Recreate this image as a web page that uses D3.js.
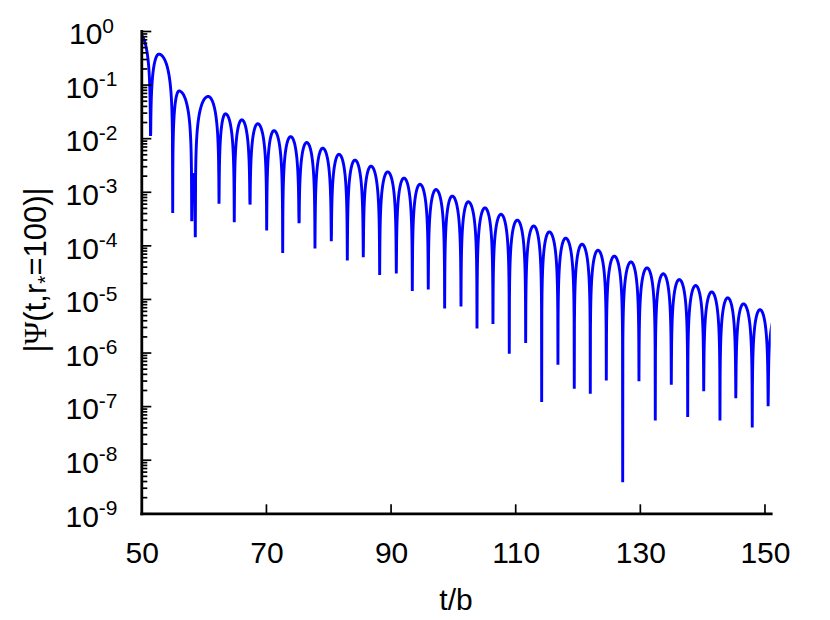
<!DOCTYPE html>
<html><head><meta charset="utf-8">
<script src="https://cdn.jsdelivr.net/npm/d3@7"></script>
<style>body{margin:0;background:#fff} svg{display:block}</style>
</head><body><svg id="c" width="830" height="620"></svg>
<script>
// ---- Data ----
// Local maxima of |Psi| (first and last lie just outside the plotted range)
const peakTimes = [49.6, 52.81, 56.05, 58.36, 60.73, 63.51, 66.13, 68.68, 71.29, 73.97,
  76.54, 79.11, 81.72, 84.29, 86.86, 89.54, 92.15, 94.72, 97.29, 99.90,
  102.47, 105.15, 107.72, 110.33, 112.97, 115.47, 118.10, 120.72, 123.28, 125.90,
  128.58, 131.15, 133.76, 136.33, 138.96, 141.53, 144.10, 146.63, 149.28, 151.9];
const peakValues = [0.9, 0.37, 7.6e-2, 2.1e-3, 6.0e-2, 2.85e-2, 2.2e-2, 1.86e-2, 1.38e-2, 1.07e-2,
  8.3e-3, 6.5e-3, 5.0e-3, 3.9e-3, 3.0e-3, 2.35e-3, 1.8e-3, 1.38e-3, 1.1e-3, 8.3e-4,
  6.5e-4, 5.0e-4, 3.8e-4, 2.95e-4, 2.3e-4, 1.78e-4, 1.36e-4, 1.05e-4, 8.1e-5, 6.3e-5,
  4.9e-5, 3.8e-5, 2.95e-5, 2.3e-5, 1.78e-5, 1.35e-5, 1.05e-5, 8.1e-6, 6.3e-6, 5.0e-6];
// Zero crossings (sharp dips) and the depth each sampled dip reaches
const zeroTimes = [51.48, 55.04, 58.09, 58.67, 62.47, 64.92, 67.44, 70.12, 72.69, 75.31,
  77.87, 80.49, 83.06, 85.62, 88.25, 90.92, 93.49, 96.05, 98.68, 101.30,
  103.87, 106.43, 109.05, 111.68, 114.25, 116.86, 119.48, 122.05, 124.62, 127.25,
  129.86, 132.48, 135.05, 137.68, 140.25, 142.86, 145.40, 148.04, 150.59];
const zeroDepths = [1.1e-2, 4.0e-4, 3.0e-4, 1.5e-4, 6.0e-4, 2.7e-4, 5.8e-4, 1.9e-4, 7.2e-5, 2.6e-4,
  8.7e-5, 1.2e-4, 5.2e-5, 6.0e-5, 2.8e-5, 3.0e-5, 1.4e-5, 1.5e-5, 6.6e-6, 7.2e-6,
  2.8e-6, 3.4e-6, 9.5e-7, 1.5e-6, 1.2e-7, 5.9e-7, 2.1e-7, 1.7e-7, 3.0e-7, 3.8e-9,
  2.9e-7, 5.4e-8, 2.5e-7, 6.3e-8, 1.9e-7, 5.4e-8, 1.4e-7, 4.0e-8, 1.0e-7];

const xTickValues = [50, 70, 90, 110, 130, 150];
const yTickExponents = [0, -1, -2, -3, -4, -5, -6, -7, -8, -9];
const xTitle = "t/b";

// ---- Layout ----
const svg = d3.select("#c");
const X0 = 141.3, X1 = 770.7, Y0 = 513.3, Y1 = 31;
const x = d3.scaleLinear().domain([50, 151]).range([X0, X1]);
const y = d3.scaleLog().domain([1e-9, 1]).range([Y0, Y1]);
const FONT = "'Liberation Sans', Arial, Helvetica, sans-serif";

// ---- Curve: each lobe drawn as an arch between a zero and its neighbouring peaks ----
const N = 48;
const pts = [];
for (let i = 0; i < zeroTimes.length; i++) {
  const pl = [peakTimes[i], peakValues[i]], pr = [peakTimes[i + 1], peakValues[i + 1]];
  const zt = zeroTimes[i], zd = zeroDepths[i];
  for (let k = 0; k < N; k++) {
    const f = 1 - k / N;
    pts.push([zt - (zt - pl[0]) * f, Math.max(zd, pl[1] * Math.sin(Math.PI / 2 * f))]);
  }
  pts.push([zt, zd]);
  for (let k = 1; k <= N; k++) {
    const f = k / N;
    pts.push([zt + (pr[0] - zt) * f, Math.max(zd, pr[1] * Math.sin(Math.PI / 2 * f))]);
  }
}

svg.append("clipPath").attr("id", "clip").append("rect")
  .attr("x", X0).attr("y", 0).attr("width", X1 - X0).attr("height", 620);

svg.append("path")
  .datum(pts)
  .attr("clip-path", "url(#clip)")
  .attr("fill", "none")
  .attr("stroke", "#0000ff")
  .attr("stroke-width", 2.9)
  .attr("d", d3.line().x(d => x(d[0])).y(d => y(d[1])));

// ---- Axes ----
const majors = yTickExponents.map(e => Math.pow(10, e));
const minors = [];
yTickExponents.slice(1).forEach(e => { for (let m = 2; m <= 9; m++) minors.push(m * Math.pow(10, e)); });

const gyMinor = svg.append("g").attr("transform", `translate(${X0},0)`)
  .call(d3.axisLeft(y).tickValues(minors).tickSize(-6).tickSizeOuter(0).tickFormat(""));
const gyMajor = svg.append("g").attr("transform", `translate(${X0},0)`)
  .call(d3.axisLeft(y).tickValues(majors).tickSize(-10).tickSizeOuter(0).tickFormat(""));
const gx = svg.append("g").attr("transform", `translate(0,${Y0})`)
  .call(d3.axisBottom(x).tickValues(xTickValues.slice(1)).tickSize(-9).tickSizeOuter(0).tickFormat(""));

[gyMinor, gyMajor, gx].forEach(g => {
  g.selectAll(".tick line").attr("stroke", "#000").attr("stroke-width", 1.7);
  g.select(".domain").attr("stroke", "#000").attr("stroke-width", 2.8).attr("stroke-linecap", "square");
});
gyMinor.select(".domain").remove();

// y tick labels 10^n
majors.forEach((v, i) => {
  const t = svg.append("text").attr("x", 91.5).attr("y", y(v) + 13.3)
    .attr("text-anchor", "middle").attr("font-family", FONT).attr("font-size", 30).attr("fill", "#000");
  t.append("tspan").text("10");
  t.append("tspan").attr("font-size", 21).attr("dy", -11.7).text(String(yTickExponents[i]));
});

// x tick labels
xTickValues.forEach(v => {
  svg.append("text").attr("x", x(v) + 1).attr("y", 563)
    .attr("text-anchor", "middle").attr("font-family", FONT).attr("font-size", 30).attr("fill", "#000")
    .text(String(v));
});

// axis titles
svg.append("text").attr("x", (X0 + X1) / 2).attr("y", 610)
  .attr("text-anchor", "middle").attr("font-family", FONT).attr("font-size", 30).attr("fill", "#000")
  .text(xTitle);

const yl = svg.append("text").attr("transform", "translate(46,270) rotate(-90)")
  .attr("text-anchor", "middle").attr("font-family", FONT).attr("font-size", 31).attr("fill", "#000");
yl.append("tspan").text("|");
yl.append("tspan").attr("font-family", "'Liberation Serif', 'DejaVu Serif', serif").text("Ψ");
yl.append("tspan").text("(t,r");
yl.append("tspan").attr("font-size", 21).attr("dy", 6).text("*");
yl.append("tspan").attr("dy", -6).text("=100)|");
</script>
</body></html>
